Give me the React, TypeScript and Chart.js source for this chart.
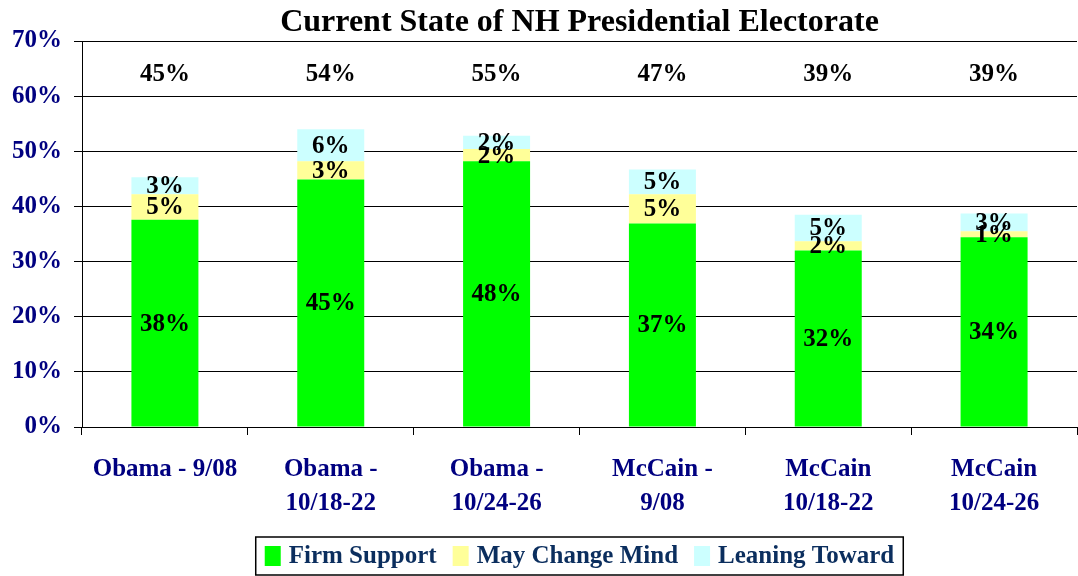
import React, { useEffect, useRef } from "react";
import { Chart, registerables } from "chart.js";

Chart.register(...registerables);

const categories: string[][] = [
  ["Obama - 9/08"],
  ["Obama -", "10/18-22"],
  ["Obama -", "10/24-26"],
  ["McCain -", "9/08"],
  ["McCain", "10/18-22"],
  ["McCain", "10/24-26"],
];
const firmSupport = [37.6, 44.9, 48.2, 36.9, 32.0, 34.4];
const mayChangeMind = [4.6, 3.3, 2.2, 5.3, 1.7, 1.1];
const leaningToward = [3.1, 5.8, 2.4, 4.5, 4.8, 3.2];

const firmLabels = ["38%", "45%", "48%", "37%", "32%", "34%"];
const mayLabels = ["5%", "3%", "2%", "5%", "2%", "1%"];
const leanLabels = ["3%", "6%", "2%", "5%", "5%", "3%"];
const totalLabels = ["45%", "54%", "55%", "47%", "39%", "39%"];
const totalLabelLevel = 63.9;

const seriesNames = ["Firm Support", "May Change Mind", "Leaning Toward"];
const seriesColors = ["#00FF00", "#FFFF99", "#CCFFFF"];
const titleText = "Current State of NH Presidential Electorate";

const yMin = 0;
const yMax = 70;
const yStep = 10;

const SERIF = "'Liberation Serif', 'Times New Roman', serif";
const NAVY = "#000080";
const LEGEND_TEXT = "#0b2e5e";

const segmentLabels = [firmLabels, mayLabels, leanLabels];

const valueLabelPlugin = {
  id: "valueLabels",
  afterDatasetsDraw(chart: any) {
    const ctx = chart.ctx;
    ctx.save();
    ctx.font = `bold 25px ${SERIF}`;
    ctx.fillStyle = "#000";
    ctx.textAlign = "center";
    ctx.textBaseline = "middle";
    chart.data.datasets.forEach((_ds: any, i: number) => {
      const meta = chart.getDatasetMeta(i);
      meta.data.forEach((el: any, j: number) => {
        const y = (el.y + el.base) / 2;
        ctx.fillText(segmentLabels[i][j], el.x, y + 1);
      });
    });
    const yScale = chart.scales.y;
    const meta0 = chart.getDatasetMeta(0);
    const ty = yScale.getPixelForValue(totalLabelLevel);
    meta0.data.forEach((el: any, j: number) => {
      ctx.fillText(totalLabels[j], el.x, ty);
    });
    ctx.restore();
  },
};

const titleLegendPlugin = {
  id: "titleLegend",
  afterDraw(chart: any) {
    const ctx = chart.ctx;
    const area = chart.chartArea;
    const cx = (area.left + area.right) / 2;
    ctx.save();
    // title
    ctx.font = `bold 32px ${SERIF}`;
    ctx.fillStyle = "#000";
    ctx.textAlign = "center";
    ctx.textBaseline = "middle";
    ctx.fillText(titleText, cx, 23);

    // legend
    ctx.font = `bold 25px ${SERIF}`;
    const boxW = 16;
    const boxH = 20;
    const boxGap = 8;
    const itemGap = 16;
    const widths = seriesNames.map((n) => boxW + boxGap + ctx.measureText(n).width);
    const total = widths.reduce((a, b) => a + b, 0) + itemGap * (widths.length - 1);
    let x = cx - total / 2;
    const midY = 556;
    ctx.strokeStyle = "#000";
    ctx.lineWidth = 1.5;
    ctx.strokeRect(x - 9, 537, total + 18, 38);
    ctx.textAlign = "left";
    seriesNames.forEach((n, i) => {
      ctx.fillStyle = seriesColors[i];
      ctx.fillRect(x, midY - boxH / 2, boxW, boxH);
      ctx.fillStyle = LEGEND_TEXT;
      ctx.fillText(n, x + boxW + boxGap, midY + 1);
      x += widths[i] + itemGap;
    });
    ctx.restore();
  },
};

export default function App() {
  const canvasRef = useRef<HTMLCanvasElement | null>(null);

  useEffect(() => {
    if (!canvasRef.current) return;
    const chart = new Chart(canvasRef.current, {
      type: "bar",
      data: {
        labels: categories,
        datasets: [firmSupport, mayChangeMind, leaningToward].map((d, i) => ({
          label: seriesNames[i],
          data: d,
          backgroundColor: seriesColors[i],
          barPercentage: 0.404,
          categoryPercentage: 1,
        })),
      },
      options: {
        animation: false,
        responsive: true,
        maintainAspectRatio: false,
        layout: { padding: { left: 0, right: 1, top: 41, bottom: 37 } },
        plugins: {
          tooltip: { enabled: false },
          title: { display: false },
          legend: { display: false },
        },
        scales: {
          x: {
            stacked: true,
            grid: {
              display: true,
              drawOnChartArea: false,
              drawTicks: true,
              tickLength: 8,
              color: "#000",
              offset: true,
            },
            border: { display: true, color: "#000", width: 1 },
            ticks: {
              color: NAVY,
              padding: 18,
              maxRotation: 0,
              autoSkip: false,
              font: { family: SERIF, size: 25, weight: "bold", lineHeight: 1.36 },
            },
          },
          y: {
            stacked: true,
            min: yMin,
            max: yMax,
            grid: {
              color: "#000",
              lineWidth: 1,
              tickLength: 8,
            },
            border: { display: true, color: "#000", width: 1 },
            ticks: {
              stepSize: yStep,
              color: NAVY,
              padding: 12,
              font: { family: SERIF, size: 25, weight: "bold" },
              callback: (v: any) => `${v}%`,
            },
          },
        },
      },
      plugins: [valueLabelPlugin, titleLegendPlugin],
    });
    return () => chart.destroy();
  }, []);

  return (
    <div style={{ position: "absolute", left: 0, top: 0, width: 1078, height: 576, background: "#fff" }}>
      <canvas ref={canvasRef} />
    </div>
  );
}
